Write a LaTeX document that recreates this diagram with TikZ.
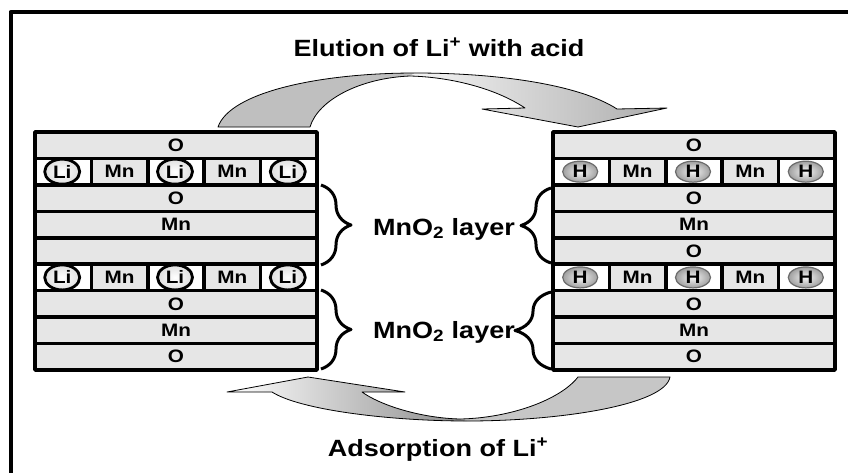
\documentclass[tikz,border=0pt]{standalone}
\usepackage{fontspec}
\setmainfont{Liberation Sans}[FakeStretch=1.15]
\usetikzlibrary{decorations.pathreplacing,shapes.geometric}
\definecolor{layerfill}{HTML}{E6E6E6}
\newcommand{\rowfont}{\fontsize{18}{20}\selectfont\bfseries}
\newcommand{\labfont}{\fontsize{23.5}{27}\selectfont\bfseries}

\begin{document}
\begin{tikzpicture}[x=1pt,y=-1pt,line join=round,
  rowbox/.style={draw=black,line width=3.5pt,fill=layerfill,minimum width=282pt,
    minimum height=26.44pt,inner sep=0pt,font=\rowfont},
  cellbox/.style={rowbox,minimum width=56.4pt},
  liion/.style={ellipse,draw=black,line width=2.8pt,inner color=white,outer color=gray!25,
    minimum width=35pt,minimum height=25pt,inner sep=0pt,font=\rowfont},
  hion/.style={ellipse,draw=gray!85!black,line width=1.2pt,inner color=gray!8,outer color=gray!75,
    minimum width=35pt,minimum height=21pt,inner sep=0pt,font=\rowfont},
  bracestyle/.style={line width=3pt,decorate,decoration={brace,amplitude=30pt}},
  caption/.style={font=\labfont,inner sep=0pt,anchor=base},
  arrowline/.style={draw=black,line width=0.8pt}]
\useasboundingbox (0,0) rectangle (848,472);

% outer frame (open to the right and bottom)
\draw[line width=4pt] (870,12) -- (10.5,12) -- (10.5,490);

% ---------- left stack: LiMn2O4 ----------
\foreach \i/\lab in {1/O,3/O,4/Mn,5/{},7/O,8/Mn,9/O}
  \node[rowbox] (L\i) at (176,{132+(\i-0.5)*26.44}) {\lab};
\foreach \r in {2,6}{
  \foreach \c in {2,4}
    \node[cellbox] (L\r m\c) at ({35+(\c-0.5)*56.4},{132+(\r-0.5)*26.44}) {Mn};
  \foreach \c in {1,3,5}{
    \node[cellbox,fill=white] (L\r c\c) at ({35+(\c-0.5)*56.4},{132+(\r-0.5)*26.44}) {};
    \node[liion] (L\r i\c) at ([xshift=-1pt]L\r c\c.center) {Li};
  }
}

% ---------- right stack: protonated form ----------
\foreach \i/\lab in {1/O,3/O,4/Mn,5/O,7/O,8/Mn,9/O}
  \node[rowbox] (R\i) at (694,{132+(\i-0.5)*26.44}) {\lab};
\foreach \r in {2,6}{
  \foreach \c in {2,4}
    \node[cellbox] (R\r m\c) at ({553+(\c-0.5)*56.4},{132+(\r-0.5)*26.44}) {Mn};
  \foreach \c in {1,3,5}{
    \node[cellbox,fill=white] (R\r c\c) at ({553+(\c-0.5)*56.4},{132+(\r-0.5)*26.44}) {};
    \node[hion] (R\r i\c) at ([xshift=-1pt]R\r c\c.center) {H};
  }
}

% ---------- braces and layer labels ----------
\coordinate (lb1a) at (321,185);
\coordinate (lb1b) at (321,265);
\coordinate (lb2a) at (321,290);
\coordinate (lb2b) at (321,369);
\coordinate (rb1a) at (551,263);
\coordinate (rb1b) at (551,188);
\coordinate (rb2a) at (551,369);
\coordinate (rb2b) at (551,292);
\draw[bracestyle] (lb1a) -- (lb1b);
\draw[bracestyle] (lb2a) -- (lb2b);
\draw[bracestyle] (rb1a) -- (rb1b);
\draw[bracestyle,decoration={brace,amplitude=36pt}] (rb2a) -- (rb2b);

\node[caption] (lay1) at (444,235) {MnO\textsubscript{2} layer};
\node[caption] (lay2) at (444,338) {MnO\textsubscript{2} layer};

% ---------- upper curved arrow: elution ----------
\fill[gray!50] (218,127) .. controls (230,92) and (320,73) .. (415,73)
  -- (410,76) .. controls (360,78) and (318,100) .. (310,127) -- cycle;
\shade[left color=gray!8,right color=gray!65] (415,73) .. controls (500,73) and (580,85) .. (617,109)
  -- (667,108) -- (578,127) -- (482,109) -- (525,108)
  .. controls (495,88) and (450,77) .. (410,76) -- cycle;
\path[arrowline] (218,127) .. controls (230,92) and (320,73) .. (415,73)
  .. controls (500,73) and (580,85) .. (617,109)
  -- (667,108) -- (578,127) -- (482,109) -- (525,108)
  .. controls (495,88) and (450,77) .. (410,76)
  .. controls (360,78) and (318,100) .. (310,127) -- cycle;

% ---------- lower curved arrow: adsorption ----------
\fill[gray!45] (670,377) .. controls (665,405) and (560,421) .. (467,421)
  -- (460,419) .. controls (510,418) and (560,400) .. (578,377) -- cycle;
\shade[left color=white,right color=gray!90] (467,421) .. controls (390,421) and (300,410) .. (272,392)
  -- (227,392) -- (308,377) -- (405,392) -- (362,392)
  .. controls (380,405) and (420,418) .. (460,419) -- cycle;
\path[arrowline] (670,377) .. controls (665,405) and (560,421) .. (467,421)
  .. controls (390,421) and (300,410) .. (272,392)
  -- (227,392) -- (308,377) -- (405,392) -- (362,392)
  .. controls (380,405) and (420,418) .. (460,419)
  .. controls (510,418) and (560,400) .. (578,377) -- cycle;

% ---------- captions ----------
\node[caption] (elution) at (439,56.5) {Elution of Li\textsuperscript{+} with acid};
\node[caption] (adsorption) at (438,456.5) {Adsorption of Li\textsuperscript{+}};
\end{tikzpicture}
\end{document}
